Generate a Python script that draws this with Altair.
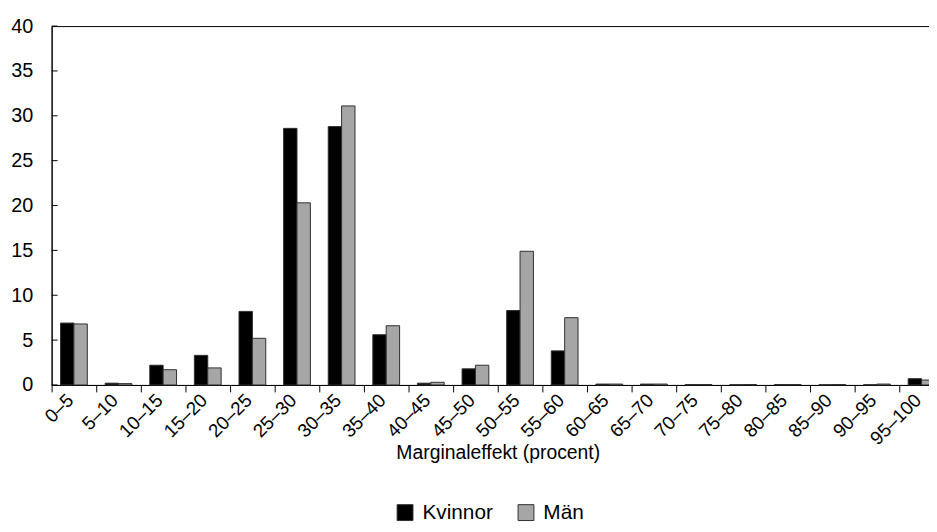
import altair as alt
import pandas as pd

CATEGORIES = [
    "0–5", "5–10", "10–15", "15–20", "20–25", "25–30", "30–35", "35–40",
    "40–45", "45–50", "50–55", "55–60", "60–65", "65–70", "70–75", "75–80",
    "80–85", "85–90", "90–95", "95–100",
]
KVINNOR = [6.9, 0.2, 2.2, 3.3, 8.2, 28.6, 28.8, 5.6, 0.2, 1.8,
           8.3, 3.8, 0.1, 0.1, 0.05, 0.03, 0.05, 0.03, 0.03, 0.7]
MAN = [6.8, 0.15, 1.7, 1.9, 5.2, 20.3, 31.1, 6.6, 0.3, 2.2,
       14.9, 7.5, 0.1, 0.1, 0.05, 0.05, 0.05, 0.05, 0.1, 0.55]
Y_TICKS = [0, 5, 10, 15, 20, 25, 30, 35, 40]

COLOUR_DICT = {"Kvinnor": "#000000", "Män": "#a6a6a6"}
FONT = "Liberation Sans"


def build_data():
    rows = []
    for cat, k, m in zip(CATEGORIES, KVINNOR, MAN):
        rows.append({"Intervall": cat, "Kön": "Kvinnor", "Andel": k})
        rows.append({"Intervall": cat, "Kön": "Män", "Andel": m})
    return pd.DataFrame(rows)


df = build_data()

bars = (
    alt.Chart(df)
    .mark_bar(stroke="#303030", strokeWidth=1)
    .encode(
        x=alt.X(
            "Intervall:N",
            sort=CATEGORIES,
            scale=alt.Scale(paddingInner=0, paddingOuter=0),
            axis=alt.Axis(
                title="Marginaleffekt (procent)",
                titleFontSize=19.5,
                titleFontWeight="normal",
                titleColor="black",
                titleY=68,
                titleBaseline="middle",
                labelAngle=-45,
                labelAlign="right",
                labelBaseline="middle",
                labelFontSize=19,
                labelColor="black",
                labelPadding=5,
                labelOffset=-4,
                tickBand="extent",
                tickSize=7,
                tickColor="black",
                domainColor="black",
                labelOverlap=False,
            ),
        ),
        xOffset=alt.XOffset(
            "Kön:N",
            sort=list(COLOUR_DICT.keys()),
            scale=alt.Scale(paddingOuter=0.667, paddingInner=0),
        ),
        y=alt.Y(
            "Andel:Q",
            scale=alt.Scale(domain=[0, 40], nice=False),
            axis=alt.Axis(
                title=None,
                values=Y_TICKS,
                ticks=False,
                labelFontSize=20,
                labelColor="black",
                labelPadding=19,
                domainColor="black",
                grid=False,
            ),
        ),
        color=alt.Color(
            "Kön:N",
            scale=alt.Scale(
                domain=list(COLOUR_DICT.keys()), range=list(COLOUR_DICT.values())
            ),
            legend=alt.Legend(
                title=None,
                orient="none",
                legendX=346,
                legendY=480,
                direction="horizontal",
                symbolType="square",
                symbolSize=256,
                symbolStrokeColor="#303030",
                symbolStrokeWidth=1,
                labelFontSize=21,
                labelColor="black",
                labelOffset=7,
                columnPadding=22,
                padding=0,
            ),
        ),
    )
)

ticks = (
    alt.Chart(pd.DataFrame({"v": Y_TICKS}))
    .mark_rule(color="black", strokeWidth=1)
    .encode(y="v:Q", x=alt.value(0), x2=alt.value(6))
)

chart = (
    alt.layer(bars, ticks)
    .properties(
        width=900,
        height=362,
        autosize=alt.AutoSizeParams(type="none"),
        padding={"left": 44, "top": 16, "right": -15, "bottom": 138},
    )
    .configure(font=FONT)
    .configure_view(stroke="black", strokeWidth=1)
)

chart.save("out.html", embed_options={"renderer": "svg", "actions": False})
